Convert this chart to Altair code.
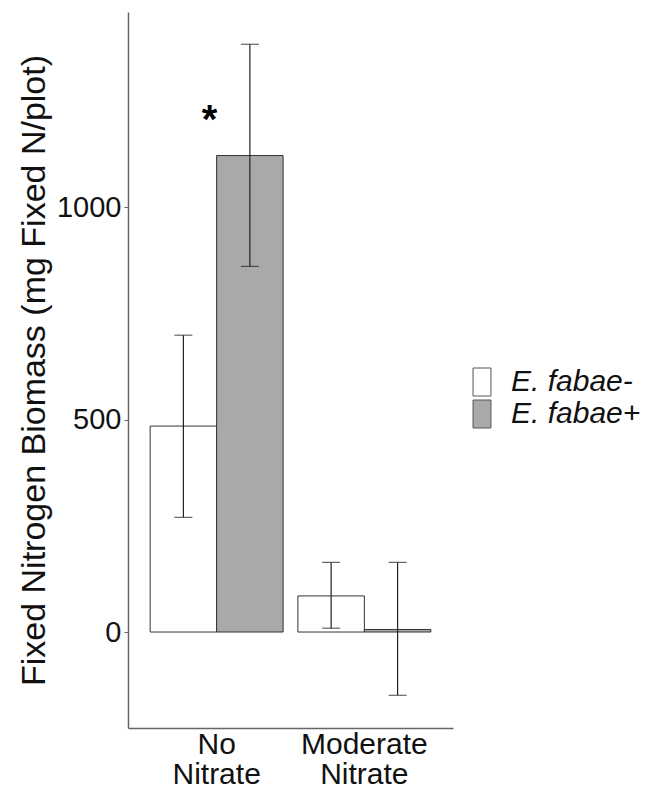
import altair as alt
import pandas as pd

nitrate = ["No Nitrate", "No Nitrate", "Moderate Nitrate", "Moderate Nitrate"]
endophyte = ["E. fabae-", "E. fabae+", "E. fabae-", "E. fabae+"]
mean_n = [485, 1122, 85, 6]
lower_n = [270, 861, 9, -149]
upper_n = [699, 1384, 164, 164]

cat_order = ["No Nitrate", "Moderate Nitrate"]
grp_order = ["E. fabae-", "E. fabae+"]
fills = ["#FFFFFF", "#A9A9A9"]

sig_cat = ["No Nitrate"]
sig_y = [1222]
sig_txt = ["*"]

df = pd.DataFrame({"nitrate": nitrate, "grp": endophyte, "mean": mean_n,
                   "lo": lower_n, "hi": upper_n})
sig = pd.DataFrame({"nitrate": sig_cat, "y": sig_y, "t": sig_txt})

FONT = "Liberation Sans"
yscale = alt.Scale(domain=[-226, 1460], nice=False, zero=False)
xenc = alt.X("nitrate:N", sort=cat_order,
             scale=alt.Scale(paddingInner=0.1, paddingOuter=0.15),
             axis=alt.Axis(title=None, labelExpr="split(datum.label, ' ')",
                           labelAngle=0, labelFontSize=30, labelLineHeight=30,
                           labelColor="#111", labelFont=FONT, ticks=False,
                           labelBaseline="top", labelPadding=1,
                           domainColor="#666", domainWidth=1.5))
xoff = alt.XOffset("grp:N", sort=grp_order, scale=alt.Scale(paddingInner=0, paddingOuter=0))

bars = alt.Chart(df).mark_bar(stroke="#333", strokeWidth=1).encode(
    x=xenc, xOffset=xoff,
    y=alt.Y("mean:Q", scale=yscale,
            axis=alt.Axis(title="Fixed Nitrogen Biomass (mg Fixed N/plot)",
                          values=[0, 500, 1000], format="d", grid=False, labelFontSize=29,
                          labelFont=FONT, labelColor="#111", titleFont=FONT,
                          titleFontSize=34, titleFontWeight="normal", titleColor="#111",
                          titlePadding=5, tickColor="#666", tickSize=4, labelPadding=3,
                          domainColor="#666", domainWidth=1.5)),
    fill=alt.Fill("grp:N", sort=grp_order,
                  scale=alt.Scale(domain=grp_order, range=fills),
                  legend=alt.Legend(title=None, orient="none", legendX=339, legendY=355,
                                    symbolType="M-0.64,-1H0.64V1H-0.64Z", symbolSize=784,
                                    symbolStrokeColor="#555", symbolStrokeWidth=1,
                                    labelFontSize=30, labelFontStyle="italic", labelFont=FONT,
                                    labelColor="#111", labelOffset=14, rowPadding=0,
                                    padding=0)),
)

rules = alt.Chart(df).mark_rule(color="#222", strokeWidth=1.2).encode(
    x=xenc, xOffset=xoff, y=alt.Y("lo:Q", scale=yscale), y2="hi:Q")
cap_lo = alt.Chart(df).mark_tick(color="#222", thickness=1.2, size=18, orient="horizontal").encode(
    x=xenc, xOffset=xoff, y=alt.Y("lo:Q", scale=yscale))
cap_hi = alt.Chart(df).mark_tick(color="#222", thickness=1.2, size=18, orient="horizontal").encode(
    x=xenc, xOffset=xoff, y=alt.Y("hi:Q", scale=yscale))

star = alt.Chart(sig).mark_text(fontSize=40, fontWeight="bold", font=FONT, dx=-7, dy=8,
                                baseline="middle", color="#000").encode(
    x=alt.X("nitrate:N", sort=cat_order), y=alt.Y("y:Q", scale=yscale), text="t:N")

chart = alt.layer(bars, rules, cap_lo, cap_hi, star).properties(
    width=325, height=716,
    padding={"left": 120, "top": 4, "right": 195, "bottom": 57},
    autosize=alt.AutoSizeParams(type="none"),
).configure_view(stroke=None)

chart.save("out.html", embed_options={"renderer": "svg", "actions": False})
